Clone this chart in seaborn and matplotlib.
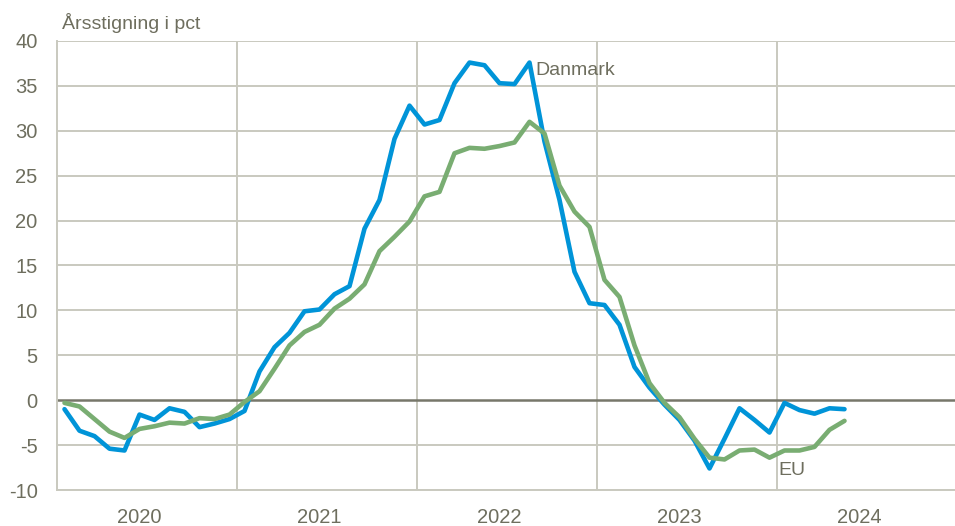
import pandas as pd
import seaborn as sns
import matplotlib.pyplot as plt

## Data: annual growth in pct, monthly Jan 2020 - May 2024
years = ['2020', '2021', '2022', '2023', '2024']
danmark = [-1.0, -3.4, -4.0, -5.4, -5.6, -1.6, -2.2, -0.9, -1.3, -3.0, -2.6, -2.1,
           -1.2, 3.2, 5.9, 7.5, 9.9, 10.1, 11.8, 12.7, 19.1, 22.3, 29.1, 32.8,
           30.7, 31.2, 35.3, 37.6, 37.3, 35.3, 35.2, 37.6, 28.8, 22.3, 14.3, 10.8,
           10.6, 8.4, 3.7, 1.4, -0.5, -2.2, -4.5, -7.6, -4.3, -0.9, -2.2, -3.6,
           -0.3, -1.1, -1.5, -0.9, -1.0]
eu = [-0.3, -0.7, -2.1, -3.5, -4.2, -3.2, -2.9, -2.5, -2.6, -2.0, -2.1, -1.6,
      -0.2, 1.0, 3.5, 6.1, 7.6, 8.4, 10.2, 11.3, 12.9, 16.6, 18.2, 19.9,
      22.7, 23.2, 27.5, 28.1, 28.0, 28.3, 28.7, 31.0, 29.7, 23.9, 21.0, 19.3,
      13.4, 11.5, 6.1, 1.9, -0.3, -1.9, -4.3, -6.4, -6.6, -5.6, -5.5, -6.4,
      -5.6, -5.6, -5.2, -3.3, -2.3]

df = pd.DataFrame({'month': list(range(len(danmark))) * 2,
                   'value': danmark + eu,
                   'serie': ['Danmark'] * len(danmark) + ['EU'] * len(eu)})

## Style
sns.set_style('white')
plt.rcParams['font.family'] = ['Liberation Sans', 'DejaVu Sans']
plt.rcParams['axes.unicode_minus'] = False
txt = '#6e6e5e'
grid = '#c9c9bf'

fig = plt.figure(figsize=(9.55, 5.26), dpi=100)
ax = fig.add_axes([57 / 955, 36 / 526, 898 / 955, 449 / 526])

sns.lineplot(data=df, x='month', y='value', hue='serie',
             palette={'Danmark': '#0094d8', 'EU': '#79ad72'},
             linewidth=3.3, legend=False, ax=ax, zorder=3)

ax.set_xlim(-0.5, -0.5 + 898 / 15)
ax.set_ylim(-10, 40)
ax.set_yticks(range(-10, 41, 5))
for y in range(-10, 41, 5):
    if y != 0:
        ax.axhline(y, color=grid, lw=1.4, zorder=1)
ax.axhline(0, color='#77776a', lw=1.8, zorder=2)
for b in [11.5, 23.5, 35.5, 47.5]:
    ax.axvline(b, color=grid, lw=1.4, zorder=1)

ax.set_xticks([12 * k + 5 for k in range(len(years))])
ax.set_xticklabels(years)
ax.tick_params(axis='both', length=0, labelsize=14.5, colors=txt)
ax.tick_params(axis='y', pad=14)
ax.tick_params(axis='x', pad=13)
ax.set_xlabel('')
ax.set_ylabel('')
for s in ['top', 'right']:
    ax.spines[s].set_visible(False)
for s in ['left', 'bottom']:
    ax.spines[s].set_color(grid)
    ax.spines[s].set_linewidth(1.4)

ax.text(31.4, 36.7, 'Danmark', color=txt, fontsize=14, va='center', ha='left')
ax.text(47.6, -7.8, 'EU', color=txt, fontsize=14, va='center', ha='left')
fig.text(62 / 955, (526 - 29) / 526, 'Årsstigning i pct', color=txt,
         fontsize=14, va='baseline', ha='left')

plt.savefig('out.png', dpi=100)
plt.close()
